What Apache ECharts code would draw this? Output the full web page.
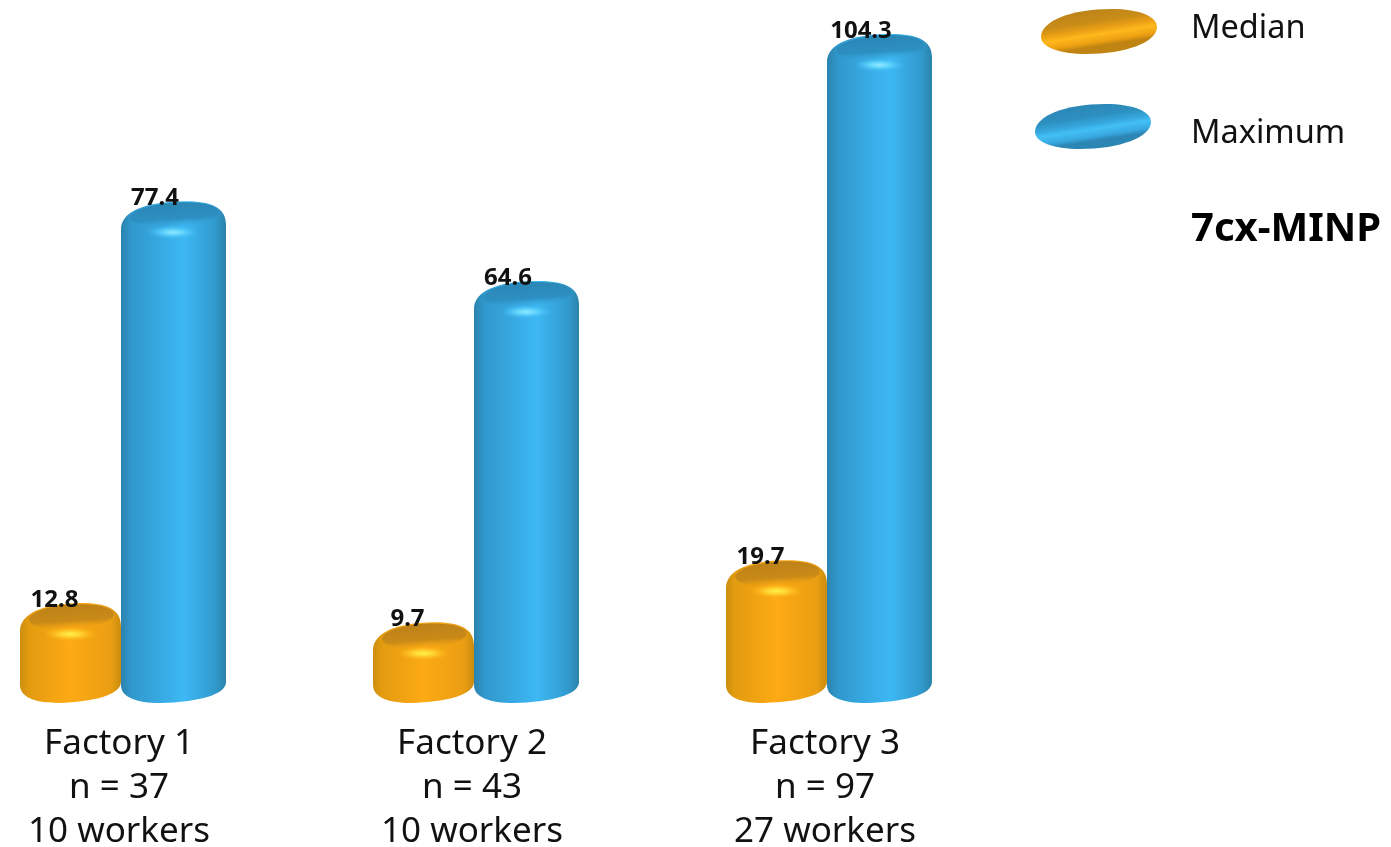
<!DOCTYPE html>
<html><head><meta charset="utf-8">
<style>html,body{margin:0;padding:0;background:#fff}#c{width:1391px;height:847px}</style>
<script src="https://cdn.jsdelivr.net/npm/echarts@6/dist/echarts.min.js"></script>
</head><body><div id="c"></div>
<script>
const factories = ['Factory 1', 'Factory 2', 'Factory 3'];
const samples = ['n = 37', 'n = 43', 'n = 97'];
const workers = ['10 workers', '10 workers', '27 workers'];
const medianValues = [12.8, 9.7, 19.7];
const maximumValues = [77.4, 64.6, 104.3];
const chartTitle = '7cx-MINP';
const FONT = '"Noto Sans", "Open Sans", sans-serif';

const categories = factories.map((f, i) => f + '\n' + samples[i] + '\n' + workers[i]);
const lin = (x0, y0, x1, y1, stops) => ({type: 'linear', x: x0, y: y0, x2: x1, y2: y1,
  colorStops: stops.map(s => ({offset: s[0], color: s[1]}))});
const rad = (stops) => ({type: 'radial', x: .5, y: .5, r: .5,
  colorStops: stops.map(s => ({offset: s[0], color: s[1]}))});

const palettes = {
  Median: {
    body: [[0, '#cc8d10'], [.08, '#e29b10'], [.5, '#fdaa14'], [.9, '#ea9e12'], [1, '#c98c10']],
    top: [[0, '#bd8118'], [.65, '#c98a17'], [1, 'rgba(232,158,20,0)']],
    glow: [[0, '#fff04a'], [.4, '#ffd22f'], [1, 'rgba(255,180,20,0)']],
    legend: [[0, '#b47e18'], [.45, '#c98c18'], [.62, '#eba015'], [.74, '#ffb81c'], [.9, '#eda012'], [1, '#c08412']]
  },
  Maximum: {
    body: [[0, '#2b82ae'], [.1, '#3098cc'], [.6, '#3db8f4'], [.9, '#3199cc'], [1, '#2b82ab']],
    top: [[0, '#2a86b4'], [.65, '#2d90c2'], [1, 'rgba(53,166,220,0)']],
    glow: [[0, '#8fe8ff'], [.4, '#5fd2fb'], [1, 'rgba(60,184,244,0)']],
    legend: [[0, '#2a82b0'], [.45, '#2d8fc0'], [.62, '#35a6dc'], [.74, '#42c0f5'], [.9, '#38a8e0'], [1, '#2c86b4']]
  }
};

function cylinder(name, offset, w, labelOffset) {
  return function (params, api) {
    const cat = api.value(0), val = api.value(1);
    const c = api.coord([cat, val]), b = api.coord([cat, 0]);
    const L = c[0] + offset - w / 2, R = L + w, B = b[1], T = c[1] - 19.3;
    const p = palettes[name];
    const d = [
      'M', L, T + 28,
      'C', L, T + 9, L + .25 * w, T + 1, L + .55 * w, T,
      'C', L + .82 * w, T - 1, R, T + 4, R, T + 23,
      'L', R, B - 21,
      'C', R, B - 8, R - .27 * w, B - 1, L + .38 * w, B,
      'C', L + .14 * w, B, L, B - 6, L, B - 18, 'Z'
    ].join(' ');
    const midX = L + w / 2, glowY = T + 30;
    return {
      type: 'group',
      children: [
        {type: 'path', shape: {pathData: d, layout: 'cover', x: L, y: T - 1, width: w, height: B - T + 1},
          style: {fill: lin(0, 0, 1, 0, p.body)}},
        {type: 'ellipse', shape: {cx: midX + 1, cy: T + 13, rx: w * .42, ry: 12.5},
          rotation: 4 * Math.PI / 180, originX: midX, originY: T + 13,
          style: {fill: lin(0, 0, 0, 1, p.top)}},
        {type: 'circle', shape: {cx: midX, cy: glowY, r: 7},
          scaleX: 3.8, originX: midX, originY: glowY,
          style: {fill: rad(p.glow)}},
        {type: 'text', x: midX + labelOffset, y: T - 4,
          style: {text: val.toFixed(1), fill: '#111', font: 'bold 24px ' + FONT, align: 'center', verticalAlign: 'middle'}}
      ]
    };
  };
}

function makeSeries(name, values, offset, w, labelOffset) {
  return {
    type: 'custom', name: name, coordinateSystem: 'cartesian2d',
    data: values.map((v, i) => [i, v]),
    encode: {x: 0, y: 1}, clip: false,
    itemStyle: {color: lin(0, 0, .06, 1, palettes[name].legend)},
    renderItem: cylinder(name, offset, w, labelOffset), silent: true
  };
}

const ellipseIcon = 'path://M0 28C0 12 30 0 70 0C100 0 116 8 116 18C116 33 85 45 45 45C18 45 0 38 0 28Z';
const legendText = (pad) => ({
  fontFamily: FONT, fontSize: 32.5, color: '#111',
  rich: {t: {fontFamily: FONT, fontSize: 32.5, color: '#111', padding: pad}}
});
const legendBase = {
  orient: 'vertical', icon: ellipseIcon, itemWidth: 116, itemHeight: 45, selectedMode: false,
  padding: 0, itemGap: 0, formatter: '{t|{name}}'
};

const chart = echarts.init(document.getElementById('c'), null, {renderer: 'canvas'});
chart.setOption({
  animation: false,
  backgroundColor: '#fff',
  title: {text: chartTitle, left: 1191, top: 210, padding: 0,
    textStyle: {fontFamily: FONT, fontWeight: 'bold', fontSize: 40, color: '#000'}},
  legend: [
    Object.assign({}, legendBase, {data: ['Median'], left: 1041, top: 9, textStyle: legendText([0, 0, 5, 29])}),
    Object.assign({}, legendBase, {data: ['Maximum'], left: 1035, top: 104, textStyle: legendText([14, 0, 0, 35])})
  ],
  grid: {left: -55.5, width: 1059, top: 6.36, height: 696.64, outerBoundsMode: 'none', containLabel: false},
  xAxis: {
    type: 'category', data: categories,
    axisLine: {show: false}, axisTick: {show: false}, splitLine: {show: false},
    axisLabel: {interval: 0, margin: 19, fontFamily: FONT, fontSize: 35, lineHeight: 44, color: '#111', padding: [0, 4, 0, 0]}
  },
  yAxis: {type: 'value', min: 0, max: 112, show: false, splitLine: {show: false}},
  series: [
    makeSeries('Median', medianValues, -50.5, 101, -16),
    makeSeries('Maximum', maximumValues, 52.5, 105, -18.5)
  ]
});
</script></body></html>
